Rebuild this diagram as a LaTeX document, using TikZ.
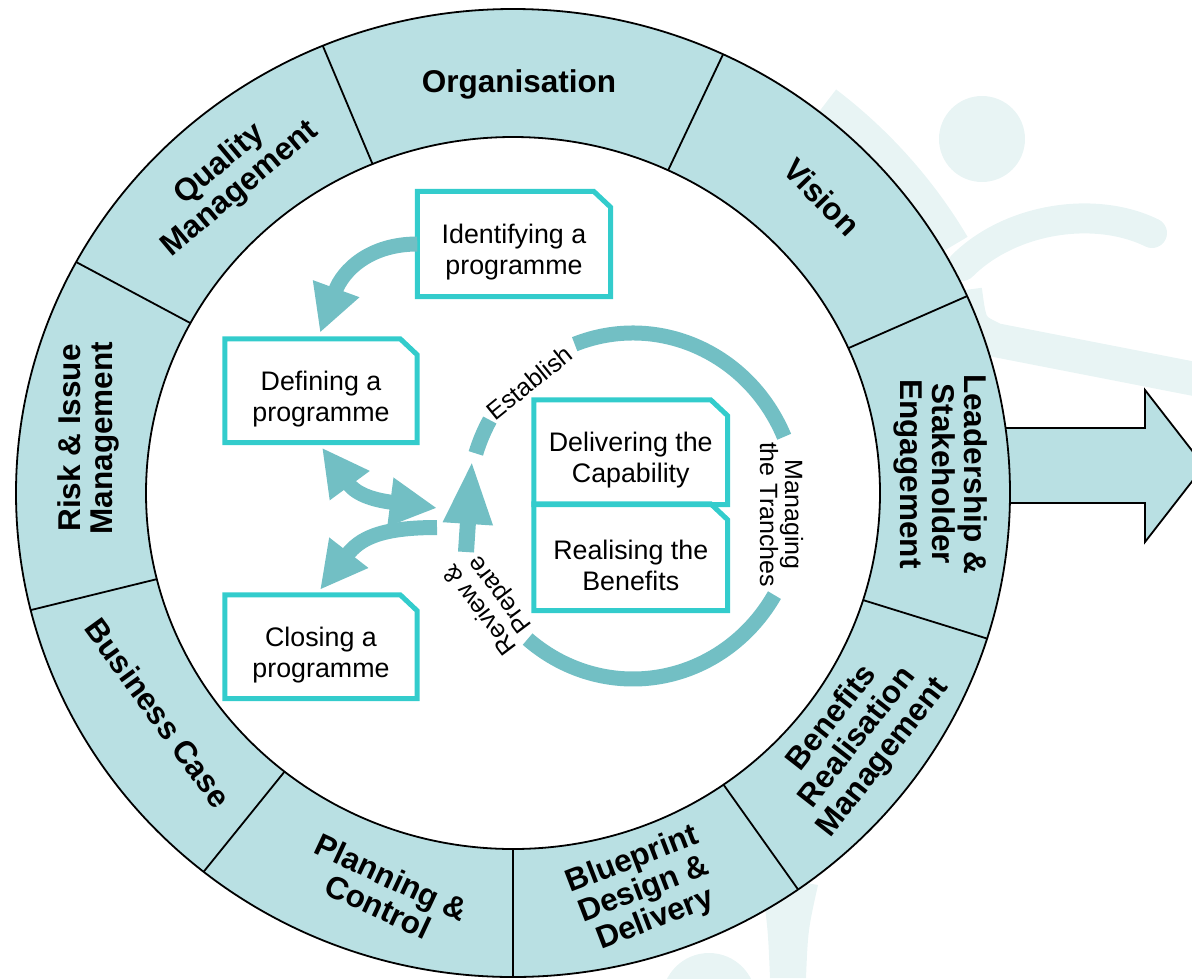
\documentclass[tikz,border=0pt]{standalone}
\usepackage{fontspec}
\setmainfont{Liberation Sans}
\usetikzlibrary{arrows.meta,calc}
\definecolor{ringc}{RGB}{185,224,227}
\definecolor{boxc}{RGB}{51,204,204}
\definecolor{arrc}{RGB}{114,191,196}
\definecolor{wmc}{RGB}{232,244,244}
\tikzset{
  seglabel/.style={font=\fontsize{31.5}{32}\selectfont\bfseries, align=center, inner sep=0pt},
  boxtext/.style={font=\fontsize{26.8}{31}\selectfont, align=center, inner sep=0pt},
  boxline/.style={draw=boxc, line width=5pt},
  arclabel/.style={font=\fontsize{25}{25}\selectfont, align=center, inner sep=0pt},
  tealarc/.style={draw=arrc, line width=15pt},
  flowarrow/.style={draw=arrc, line width=15pt, -{Triangle[width=46pt,length=47pt]}},
  dblarrow/.style={draw=arrc, line width=15pt, {Triangle[width=46pt,length=47pt]}-{Triangle[width=46pt,length=47pt]}},
  ringline/.style={draw=black, line width=1.8pt},
}
% box outline drawn 8pt above the text node that it frames
\newcommand\cutbox[1]{\draw[boxline] ([yshift=8pt]#1.south west) -- ([yshift=8pt]#1.north west) -- ([xshift=-17pt,yshift=8pt]#1.north east) -- ([yshift=-8pt]#1.north east) -- ([yshift=8pt]#1.south east) -- cycle;}
\begin{document}
\begin{tikzpicture}[x=1pt,y=1pt]
\useasboundingbox (0,0) rectangle (1192,-978);
% faint watermark figure
\coordinate (c) at (513,-493);
\fill[wmc] (982,-139) circle[radius=43];
\draw[wmc, line width=30pt, line cap=round] (962,-266) .. controls (1010,-218) and (1095,-205) .. (1152,-233);
\draw[wmc, line width=34pt] (965,-290) .. controls (970,-328) .. (995,-340) -- (1200,-380);
\draw[wmc, line width=28pt] ($(c)+(52:511 and 498)$) arc[start angle=52, end angle=30, x radius=511, y radius=498];
\fill[wmc] (762,-885) .. controls (790,-880) .. (818,-885) .. controls (808,-930) .. (806,-978) -- (770,-978) .. controls (768,-930) .. (762,-885) -- cycle;
\fill[wmc] (709,-1000) circle[radius=47];
% big arrow
\draw[fill=ringc, line width=1.8pt, line join=miter] (985,-428) -- (1145,-428) -- (1145,-390) -- (1204,-466) -- (1145,-542) -- (1145,-503) -- (985,-503) -- cycle;
% ring
\fill[ringc, even odd rule] (c) ellipse [x radius=497, y radius=484] (c) ellipse [x radius=367, y radius=356];
\draw[ringline] (c) ellipse [x radius=497, y radius=484];
\draw[ringline] (c) ellipse [x radius=367, y radius=356];
\foreach \a in {24,65,112.5,151.5,194,231.5,270,305,342.5}
  \draw[ringline] ($(c)+(\a:367 and 356)$) -- ($(c)+(\a:497 and 484)$);
% ring labels
\node[seglabel] (org) at (519,-84) {Organisation};
\node[seglabel, rotate=-46] (vis) at (822,-197) {Vision};
\node[seglabel, rotate=-90] (lead) at (941,-474) {Leadership \&\\Stakeholder\\Engagement};
\node[seglabel, rotate=52] (ben) at (858,-738) {Benefits\\Realisation\\Management};
\node[seglabel, rotate=21] (blue) at (644,-890) {Blueprint\\Design \&\\Delivery};
\node[seglabel, rotate=-25] (plan) at (385,-892) {Planning \&\\Control};
\node[seglabel, rotate=-54] (bus) at (158,-713) {Business Case};
\node[seglabel, rotate=90] (risk) at (88,-438) {Risk \& Issue\\Management};
\node[seglabel, rotate=40] (qual) at (230,-177) {Quality\\Management};
% process boxes
\node[boxtext, minimum width=193pt, minimum height=105pt] (ident) at (514,-252) {Identifying a\\programme};
\cutbox{ident}
\node[boxtext, minimum width=192pt, minimum height=103.5pt] (def) at (321,-398.75) {Defining a\\programme};
\cutbox{def}
\node[boxtext, minimum width=192pt, minimum height=103.5pt] (close) at (321,-654.75) {Closing a\\programme};
\cutbox{close}
\node[boxtext, minimum width=193.5pt, minimum height=104.5pt] (deliv) at (630.75,-460.25) {Delivering the\\Capability};
\cutbox{deliv}
\node[boxtext, minimum width=193.5pt, minimum height=106.5pt] (real) at (630.75,-565.25) {Realising the\\Benefits};
\cutbox{real}
% tranche cycle
\coordinate (sc) at (633,-506);
\draw[tealarc] ($(sc)+(23.6:165 and 173)$) arc[start angle=23.6, end angle=110.7, x radius=165, y radius=173];
\draw[tealarc] ($(sc)+(-31:165 and 173)$) arc[start angle=-31, end angle=-129.7, x radius=165, y radius=173];
\draw[tealarc] ($(sc)+(162.3:165 and 173)$) arc[start angle=162.3, end angle=150.2, x radius=165, y radius=173];
\coordinate (upTail) at (466,-552);
\coordinate (upTip) at (472,-460);
\draw[draw=arrc, line width=16pt, -{Triangle[width=45pt,length=64pt]}] (upTail) -- (upTip);
\node[arclabel, rotate=39] (est) at (529.5,-382.5) {Establish};
\node[arclabel, rotate=-90] (man) at (781.5,-514.5) {Managing\\the Tranches};
\node[arclabel, rotate=127] (rev) at (491,-601.5) {Review \&\\Prepare};
% flow arrows
\coordinate (hubA) at (437,-508);
\coordinate (hubB) at (437,-527.5);
\draw[flowarrow] ([yshift=8pt]ident.west) .. controls (370,-244) and (343,-270) .. ($(def.north)+(-1,14)$);
\draw[dblarrow] ($(def.south)+(1,3)$) .. controls (357.4,-496) and (377.5,-500.5) .. (hubA);
\draw[flowarrow] (hubB) .. controls (380,-527.5) and (359.8,-538.6) .. ($(close.north)+(-1,13)$);
\end{tikzpicture}
\end{document}
